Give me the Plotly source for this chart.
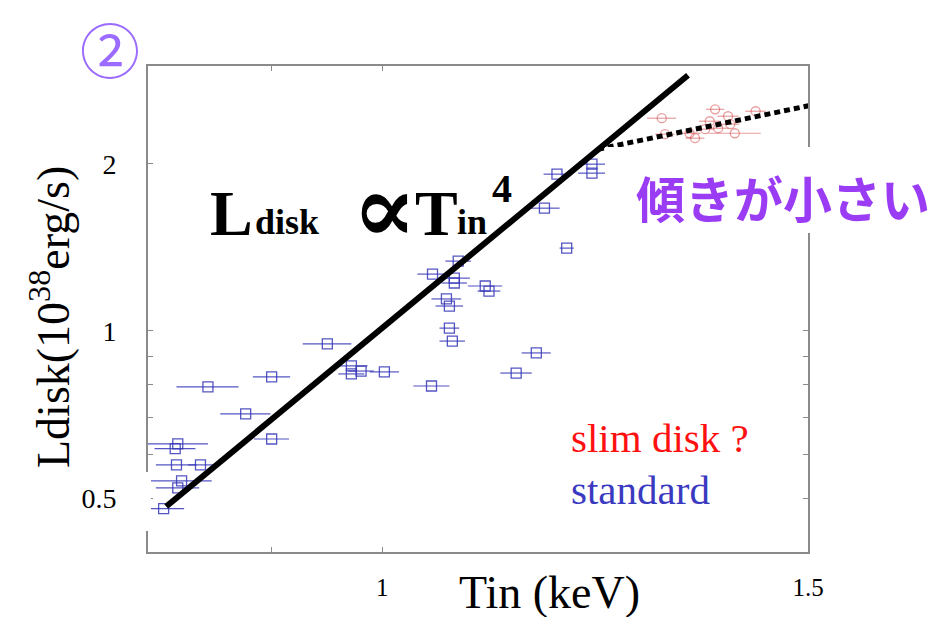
import plotly.graph_objects as go

# ---------------- data ----------------
std_T = [0.949, 0.900, 0.847, 0.878, 0.900, 0.823, 0.821, 0.822, 0.841, 0.826, 0.823, 0.812,
         0.971, 0.971, 0.980, 1.002,
         1.221, 1.221, 1.181, 1.167, 1.192, 1.049, 1.071, 1.075, 1.071, 1.103, 1.107,
         1.063, 1.066, 1.066, 1.069, 1.158, 1.136, 1.048]
std_L = [0.948, 0.827, 0.793, 0.709, 0.639, 0.626, 0.614, 0.574, 0.574, 0.537, 0.522, 0.479,
         0.865, 0.837, 0.847, 0.844,
         1.997, 1.924, 1.916, 1.664, 1.410, 1.266, 1.245, 1.336, 1.220, 1.205, 1.180,
         1.142, 1.109, 1.012, 0.959, 0.913, 0.840, 0.796]
std_err = [0.022, 0.016, 0.025, 0.021, 0.015, 0.024, 0.016, 0.016, 0.010, 0.024, 0.017, 0.016,
           0.015, 0.012, 0.012, 0.014,
           0.016, 0.016, 0.015, 0.017, 0.008, 0.015, 0.016, 0.013, 0.013, 0.018, 0.012,
           0.015, 0.014, 0.010, 0.013, 0.016, 0.017, 0.018]

slim_T = [1.305, 1.309, 1.340, 1.347, 1.360, 1.366, 1.373, 1.377, 1.390, 1.393, 1.399, 1.427]
slim_L = [2.416, 2.261, 2.270, 2.224, 2.309, 2.386, 2.507, 2.318, 2.436, 2.357, 2.270, 2.487]
slim_err = [0.018, 0.012, 0.014, 0.012, 0.012, 0.014, 0.012, 0.014, 0.014, 0.012, 0.035, 0.014]

fit_T = [0.814, 1.338]      # L_disk ∝ T_in^4 guide
fit_L = [0.483, 2.887]
flat_T = [1.228, 1.525]     # shallower slope guide
flat_L = [2.125, 2.581]

x_ticks = [1, 1.5]
x_ticklabels = ["1", "1.5"]
y_ticks = [0.5, 1, 2]
y_ticklabels = ["0.5", "1", "2"]

# ---------------- layout helpers ----------------
W, H = 945, 617
L_, T_, R_, B_ = 148, 66, 808, 552   # frame in window pixels
def px(x):
    return (x - L_) / (R_ - L_)
def py(y):
    return (B_ - y) / (B_ - T_)

SERIF = "Liberation Serif, Times New Roman, serif"
BLUE = "rgba(55,55,185,0.85)"
RED = "rgba(215,90,90,0.6)"

fig = go.Figure()

fig.add_trace(go.Scatter(
    x=std_T, y=std_L, mode="markers",
    marker=dict(symbol="square-open", size=10, color=BLUE, line=dict(width=1.3, color=BLUE)),
    error_x=dict(type="data", array=std_err, color=BLUE, thickness=1.2, width=0),
    showlegend=False))

fig.add_trace(go.Scatter(
    x=slim_T, y=slim_L, mode="markers",
    marker=dict(symbol="circle-open", size=9, color=RED, line=dict(width=1.3, color=RED)),
    error_x=dict(type="data", array=slim_err, color=RED, thickness=1.2, width=0),
    showlegend=False))

fig.add_trace(go.Scatter(
    x=fit_T, y=fit_L, mode="lines",
    line=dict(color="black", width=6), showlegend=False))

fig.add_trace(go.Scatter(
    x=flat_T, y=flat_L, mode="lines",
    line=dict(color="black", width=5, dash="6px,4px"), showlegend=False))

axis_common = dict(
    type="log", showgrid=False, zeroline=False,
    showline=True, linecolor="#8a8a8a", linewidth=2, mirror="ticks",
    ticks="inside", ticklen=5, tickcolor="#8a8a8a", tickwidth=1,
)

fig.update_layout(
    width=W, height=H,
    margin=dict(l=L_, r=W - R_, t=T_, b=H - B_),
    paper_bgcolor="white", plot_bgcolor="white",
    xaxis=dict(axis_common, range=[-0.09691, 0.176091],
               tickvals=x_ticks, ticktext=x_ticklabels,
               tickfont=dict(family=SERIF, size=25, color="black"),
               minor=dict(tickvals=[0.9], ticks="inside", ticklen=5, tickcolor="#8a8a8a"),
               ticklabelstandoff=12),
    yaxis=dict(axis_common, range=[-0.39794, 0.47712],
               tickvals=y_ticks, ticktext=y_ticklabels,
               tickfont=dict(family=SERIF, size=28, color="black"),
               minor=dict(tickvals=[0.6, 0.7, 0.8, 0.9], ticks="inside", ticklen=5, tickcolor="#8a8a8a"),
               ticklabelstandoff=24),
)

# white cover boxes (as in the original slide)
fig.add_shape(type="rect", xref="paper", yref="paper",
              x0=px(605), x1=px(960), y0=py(233), y1=py(147),
              fillcolor="white", line=dict(width=0), layer="above")
fig.add_shape(type="rect", xref="paper", yref="paper",
              x0=px(130), x1=px(151), y0=py(531), y1=py(472),
              fillcolor="white", line=dict(width=0), layer="above")

ann = []
def add(text, x, y, size, color="black", family=SERIF, xanchor="left", yanchor="middle", angle=0):
    ann.append(dict(text=text, x=px(x), y=py(y), xref="paper", yref="paper",
                    xanchor=xanchor, yanchor=yanchor, showarrow=False, textangle=angle,
                    font=dict(family=family, size=size, color=color)))

# axis titles
add("Tin (keV)", 549, 592, 46, xanchor="center")
add("Ldisk(10<sup>38</sup>erg/s)", 50, 317, 46, xanchor="center", angle=-90)

# formula
add("<b>L</b>", 208, 214, 64)
add("<b>disk</b>", 253, 222, 36)
add("<b>∝</b>", 350, 208, 96, family="DejaVu Serif")
add("<b>T</b>", 413, 214, 64)
add("<b>in</b>", 455, 222, 36)
add("<b>4</b>", 490, 188, 40)

# legend texts
add("slim disk ?", 569, 438, 41, color="#ff1010")
add("standard", 569, 490, 41, color="#3a3ac0")

# japanese note
add("<b>傾きが小さい</b>", 634, 196, 49, color="#9b3cf5", family="Noto Sans CJK JP")

# circled number
add("②", 110, 2, 60, color="#9b6cff", family="Noto Sans CJK JP", xanchor="center", yanchor="top")

fig.update_layout(annotations=ann)

fig.write_html("out.html", config={"displayModeBar": False},
               post_script="document.body.style.margin='0';document.body.style.overflow='hidden';")
